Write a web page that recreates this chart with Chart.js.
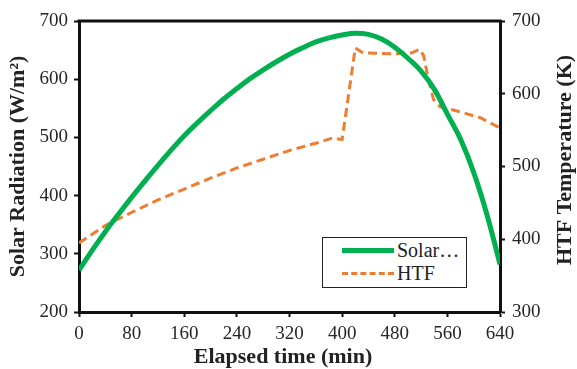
<!DOCTYPE html>
<html>
<head>
<meta charset="utf-8">
<script src="https://cdn.jsdelivr.net/npm/chart.js@4/dist/chart.umd.min.js"></script>
<style>
  html, body { margin: 0; padding: 0; background: #fff; }
  #wrap { position: relative; width: 577px; height: 369px; }
  #legend {
    position: absolute; left: 322px; top: 237px; width: 145px; height: 51px;
    border: 1.5px solid #222; background: #fff; box-sizing: border-box;
    font-family: "Liberation Serif", "Times New Roman", serif; font-size: 20px; color: #222;
  }
  .row { position: absolute; left: 0; height: 22px; display: flex; align-items: center; white-space: nowrap; }
  .swatch { width: 52px; margin-left: 19px; margin-right: 3px; }
</style>
</head>
<body>
<div id="wrap">
  <canvas id="c" width="577" height="369"></canvas>
  <div id="legend"></div>
</div>
<script>
// Elapsed time (min) and solar radiation (W/m²)
const solarTime = [0, 20, 40, 60, 80, 100, 120, 140, 160, 180, 200, 220, 240, 260, 280, 300, 320,
                   340, 360, 380, 400, 420, 440, 460, 480, 500, 520, 540, 560, 580, 600, 620, 640];
const solarValues = [272, 306, 338, 368, 397, 425, 452, 478, 503, 525, 546, 566, 584, 601, 616, 630, 643,
                     654, 664, 671, 676, 679, 677, 669, 655, 636, 614, 583, 540, 497, 440, 368, 282];

// Elapsed time (min) and heat transfer fluid temperature (K)
const htfTime = [0, 40, 80, 120, 160, 200, 240, 280, 320, 360, 385, 400, 420, 432,
                 480, 505, 518, 524, 531, 539, 549, 580, 610, 640];
const htfValues = [395, 419, 437, 454, 469, 484, 498, 510, 522, 532, 539, 537, 663, 656,
                   655, 656, 661, 652, 620, 592, 582, 575, 567, 553];

const seriesNames = ['Solar…', 'HTF'];
const xTicks = [0, 80, 160, 240, 320, 400, 480, 560, 640];

const GREEN = 'rgb(0,176,80)';
const ORANGE = 'rgb(237,125,49)';
const SERIF = '"Liberation Serif", "Times New Roman", serif';

const solarPoints = solarTime.map((t, i) => ({ x: t, y: solarValues[i] }));
const htfPoints = htfTime.map((t, i) => ({ x: t, y: htfValues[i] }));

// Frame along the top of the plot, the right-hand title reading bottom to top,
// and the x-axis title
const framePlugin = {
  id: 'frame',
  afterDraw(chart) {
    const { ctx, chartArea: a } = chart;
    ctx.save();
    ctx.strokeStyle = '#111';
    ctx.lineWidth = 3;
    ctx.beginPath();
    ctx.moveTo(a.left - 1.5, a.top);
    ctx.lineTo(a.right + 1.5, a.top);
    ctx.stroke();

    ctx.fillStyle = '#222';
    ctx.textAlign = 'center';
    ctx.textBaseline = 'middle';
    ctx.font = 'bold 22px ' + SERIF;
    ctx.fillText('Elapsed time (min)', 283, 357);

    ctx.translate(565, 160);
    ctx.rotate(-Math.PI / 2);
    ctx.fillText('HTF Temperature (K)', 0, 0);
    ctx.restore();
  }
};

const tickFont = { family: SERIF, size: 19 };
const titleFont = { family: SERIF, size: 22, weight: 'bold', lineHeight: 1 };

const chart = new Chart(document.getElementById('c'), {
  type: 'line',
  data: {
    datasets: [
      {
        label: seriesNames[0], data: solarPoints, yAxisID: 'y',
        borderColor: GREEN, borderWidth: 5, pointRadius: 0, tension: 0.4, fill: false
      },
      {
        label: seriesNames[1], data: htfPoints, yAxisID: 'y2',
        borderColor: ORANGE, borderWidth: 3, borderDash: [9, 5], pointRadius: 0,
        tension: 0, fill: false
      }
    ]
  },
  options: {
    responsive: false,
    animation: false,
    layout: { padding: { top: 21, left: 0, right: 0, bottom: 0 } },
    plugins: { legend: { display: false }, tooltip: { enabled: false } },
    scales: {
      x: {
        type: 'linear', min: 0, max: 640,
        afterBuildTicks: s => { s.ticks = xTicks.map(v => ({ value: v })); },
        afterFit: s => { s.height = 57; },
        ticks: { font: tickFont, color: '#262626', padding: 6, maxRotation: 0, autoSkip: false },
        grid: { drawOnChartArea: false, tickLength: 5, tickColor: '#111', tickWidth: 2 },
        border: { color: '#111', width: 3 }
      },
      y: {
        position: 'left', min: 200, max: 700,
        ticks: { stepSize: 100, font: tickFont, color: '#262626', padding: 6 },
        afterFit: s => { s.width = 79; },
        grid: { drawOnChartArea: false, tickLength: 5, tickColor: '#111', tickWidth: 2 },
        border: { color: '#111', width: 3 },
        title: { display: true, text: 'Solar Radiation (W/m²)', font: titleFont, color: '#222', padding: { top: 7, bottom: 0 } }
      },
      y2: {
        position: 'right', min: 300, max: 700,
        ticks: { stepSize: 100, font: tickFont, color: '#262626', padding: 7 },
        afterFit: s => { s.width = 77; },
        grid: { drawOnChartArea: false, tickLength: 5, tickColor: '#111', tickWidth: 2 },
        border: { color: '#111', width: 3 }
      }
    }
  },
  plugins: [framePlugin]
});

// Legend box built from the chart's datasets
const legend = document.getElementById('legend');
chart.data.datasets.forEach((ds, i) => {
  const row = document.createElement('div');
  row.className = 'row';
  row.style.top = (i === 0 ? 1 : 24) + 'px';
  const sw = document.createElement('div');
  sw.className = 'swatch';
  sw.style.borderTop = ds.borderDash ? `${ds.borderWidth}px dashed ${ds.borderColor}` : `${ds.borderWidth}px solid ${ds.borderColor}`;
  const txt = document.createElement('span');
  txt.textContent = ds.label;
  row.appendChild(sw);
  row.appendChild(txt);
  legend.appendChild(row);
});
</script>
</body>
</html>
